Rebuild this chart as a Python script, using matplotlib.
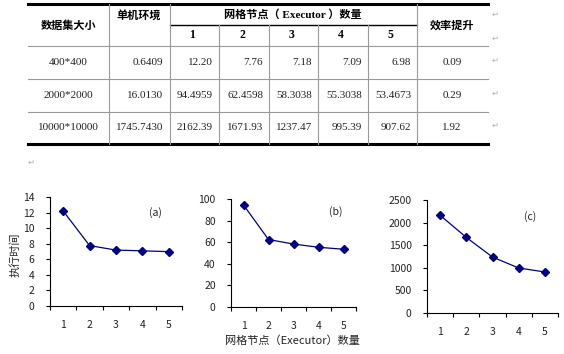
import matplotlib
matplotlib.use("Agg")
import matplotlib.pyplot as plt
from matplotlib.ticker import FixedLocator, NullFormatter

plt.rcParams["font.family"] = ["Noto Sans CJK SC", "DejaVu Sans"]

W, H = 564, 354

# table data (as printed)
sizes = ["400*400", "2000*2000", "10000*10000"]
single = ["0.6409", "16.0130", "1745.7430"]
nodes = ["1", "2", "3", "4", "5"]
times = [
    ["12.20", "7.76", "7.18", "7.09", "6.98"],
    ["94.4959", "62.4598", "58.3038", "55.3038", "53.4673"],
    ["2162.39", "1671.93", "1237.47", "995.39", "907.62"],
]
speedup = ["0.09", "0.29", "1.92"]

panel_tags = ["(a)", "(b)", "(c)"]
y_limits = [14, 100, 2500]
y_steps = [2, 20, 500]

NAVY = "#000080"
GRID_GREY = "#9a9a9a"
MARK = "#b0b0b0"
TXT = "#222222"

fig = plt.figure(figsize=(W / 100, H / 100), dpi=100)
fig.patch.set_facecolor("white")

# page layer in pixel coordinates
page = fig.add_axes([0, 0, 1, 1])
page.set_xlim(0, W)
page.set_ylim(H, 0)
page.axis("off")

# --- table ---------------------------------------------------------------
col_x = [28, 109, 170, 219, 269, 318, 368, 417, 488]
row_y = [4, 25, 46, 79, 112, 144]

page.plot([28, 488], [4, 4], color="black", lw=2.2)
page.plot([28, 488], [144, 144], color="black", lw=2.2)
page.plot([170, 417], [25, 25], color="black", lw=1.0)
for y in row_y[2:5]:
    page.plot([28, 488], [y, y], color=GRID_GREY, lw=0.8)
for x in col_x[1:-1]:
    top = 25 if x in col_x[3:7] else 4
    page.plot([x, x], [top, 144], color=GRID_GREY, lw=0.8)

serif = "Liberation Serif"
mixed = [serif, "Noto Sans CJK SC"]
page.text(69, 25, "数据集大小", ha="center", va="center", fontsize=8, fontweight="bold")
page.text(139, 15, "单机环境", ha="center", va="center", fontsize=8, fontweight="bold")
page.text(293, 14, "网格节点（ Executor ）数量", ha="center", va="center",
          fontsize=8, fontweight="bold", family=mixed)
page.text(452, 25, "效率提升", ha="center", va="center", fontsize=8, fontweight="bold")

for i, n in enumerate(nodes):
    cx = (col_x[2 + i] + col_x[3 + i]) / 2
    page.text(cx - 2, 35, n, ha="center", va="center", fontsize=8.5,
              fontweight="bold", family=serif)

for r in range(3):
    cy = (row_y[2 + r] + row_y[3 + r]) / 2
    page.text(col_x[0] + 40, cy, sizes[r], ha="center", va="center",
              fontsize=8, family=serif, color=TXT)
    page.text(col_x[2] - 7, cy, single[r], ha="right", va="center",
              fontsize=8, family=serif, color=TXT)
    for c in range(5):
        page.text(col_x[3 + c] - 6, cy, times[r][c], ha="right", va="center",
                  fontsize=8, family=serif, color=TXT)
    page.text(452, cy, speedup[r], ha="center", va="center",
              fontsize=8, family=serif, color=TXT)

# paragraph marks of the source document
for y in [14, 38, 60, 93, 125]:
    page.text(492, y, "↵", ha="left", va="center", fontsize=6,
              color=MARK, family="DejaVu Sans")
page.text(28, 162, "↵", ha="left", va="center", fontsize=6,
          color=MARK, family="DejaVu Sans")


# --- charts --------------------------------------------------------------
def px_axes(left, right, top, bottom):
    return fig.add_axes([left / W, (H - bottom) / H,
                         (right - left) / W, (bottom - top) / H])


boxes = [(50, 182, 197, 306), (231, 356, 199, 307), (427, 558, 200, 313)]
tag_pos = [(0.80, 0.86), (0.84, 0.88), (0.79, 0.85)]
xs = [int(n) for n in nodes]

for k, box in enumerate(boxes):
    ax = px_axes(*box)
    vals = [float(v) for v in times[k]]
    ax.plot(xs, vals, color=NAVY, lw=0.9, marker="D", ms=4.2,
            markerfacecolor=NAVY, markeredgecolor=NAVY)
    ax.set_xlim(0.5, 5.5)
    ax.set_ylim(0, y_limits[k])
    ax.set_yticks(range(0, y_limits[k] + 1, y_steps[k]))
    ax.xaxis.set_major_locator(FixedLocator([0.5, 1.5, 2.5, 3.5, 4.5, 5.5]))
    ax.xaxis.set_major_formatter(NullFormatter())
    ax.set_xticks(xs, minor=True)
    ax.set_xticklabels(nodes, minor=True)
    ax.tick_params(axis="x", which="major", direction="out", length=3,
                   width=0.8, color="black")
    ax.tick_params(axis="x", which="minor", length=0, pad=10,
                   labelsize=7.5, labelcolor=TXT)
    ax.tick_params(axis="y", direction="out", length=3, width=0.8,
                   pad=8, labelsize=7.5, labelcolor=TXT)
    for s in ["top", "right"]:
        ax.spines[s].set_visible(False)
    for s in ["left", "bottom"]:
        ax.spines[s].set_linewidth(0.8)
    ax.set_facecolor("none")
    ax.text(tag_pos[k][0], tag_pos[k][1], panel_tags[k], transform=ax.transAxes,
            ha="center", va="center", fontsize=7.5, color=TXT)

page.text(15, 255, "执行时间", ha="center", va="center", rotation=90,
          fontsize=8, color=TXT)
page.text(292, 341, "网格节点（Executor）数量", ha="center", va="center",
          fontsize=8, color=TXT)

fig.savefig("out.png", dpi=100, facecolor="white")
